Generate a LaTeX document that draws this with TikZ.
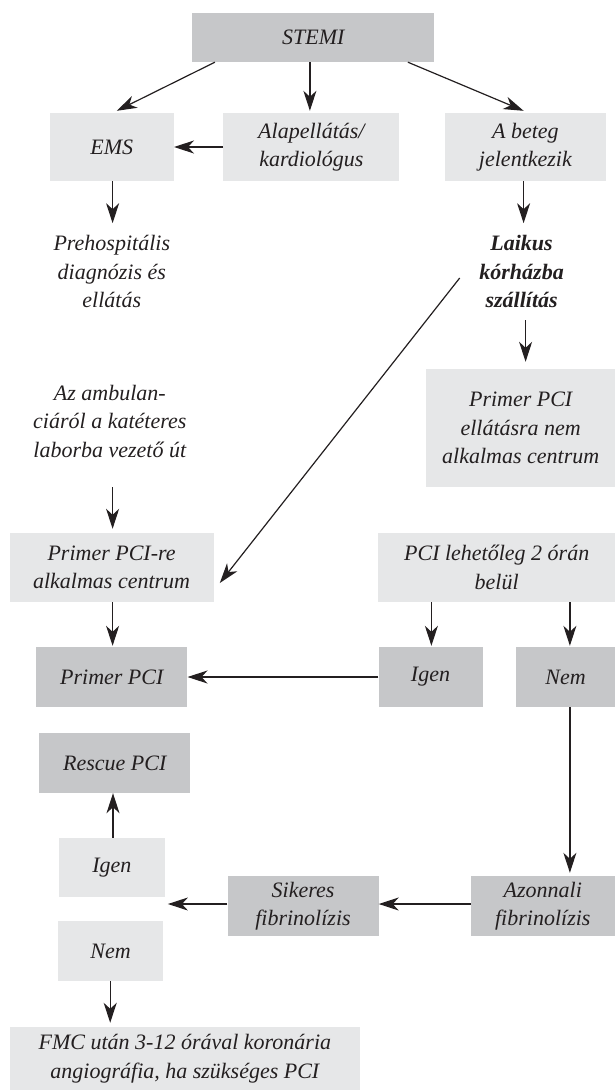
\documentclass[tikz,border=0pt]{standalone}
\usepackage{fontspec}
\setmainfont{Liberation Serif}
\usetikzlibrary{arrows.meta,calc}
\definecolor{darkbox}{HTML}{C6C7C9}
\definecolor{lightbox}{HTML}{E6E7E8}
\definecolor{ink}{HTML}{231F20}
\begin{document}
\begin{tikzpicture}[x=1pt,y=-1pt,
  every node/.style={font=\fontsize{22}{28.5}\selectfont\itshape, text=ink, align=center, inner sep=0pt},
  dbox/.style={fill=darkbox},
  lbox/.style={fill=lightbox},
  arr/.style={draw=ink, line width=1.2pt, -{Stealth[length=20pt,width=13pt,inset=6pt]}}]
\useasboundingbox (0,0) rectangle (615,1090);
\node[dbox, minimum width=242pt, minimum height=49pt] (stemi) at (313.4,37.5) {STEMI};
\node[lbox, minimum width=124pt, minimum height=68pt] (ems) at (111.8,147) {EMS};
\node[lbox, minimum width=176pt, minimum height=68pt] (alap) at (311.4,147) {Alapellátás/\\kardiológus};
\node[lbox, minimum width=161pt, minimum height=68pt] (beteg) at (525.4,147) {A beteg\\jelentkezik};
\node (prehosp) at (111.8,271.5) {Prehospitális\\diagnózis és\\ellátás};
\node (laikus) at (521.6,271.5) {\bfseries Laikus\\\bfseries kórházba\\\bfseries szállítás};
\node[lbox, minimum width=189pt, minimum height=118pt] (nemalk) at (520.7,428) {Primer PCI\\ellátásra nem\\alkalmas centrum};
\node (amb) at (109.8,421) {Az ambulan-\\ciáról a katéteres\\laborba vezető út};
\node[lbox, minimum width=204pt, minimum height=69pt] (pcire) at (111.6,567.5) {Primer PCI-re\\alkalmas centrum};
\node[lbox, minimum width=237pt, minimum height=69pt] (pcilet) at (496.7,567.5) {PCI lehetőleg 2 órán\\belül};
\node[dbox, minimum width=151pt, minimum height=60pt] (primer) at (111.8,677) {Primer PCI};
\node[dbox, minimum width=104pt, minimum height=60pt] (igen1) at (430.5,677) {Igen};
\node[dbox, minimum width=99pt, minimum height=60pt] (nem1) at (565.6,677) {Nem};
\node[dbox, minimum width=151pt, minimum height=60pt] (rescue) at (114.7,763) {Rescue PCI};
\node[lbox, minimum width=106pt, minimum height=59pt] (igen2) at (111.8,867.5) {Igen};
\node[dbox, minimum width=151pt, minimum height=60pt] (sik) at (303,906) {Sikeres\\fibrinolízis};
\node[dbox, minimum width=144pt, minimum height=60pt] (azon) at (542.8,906) {Azonnali\\fibrinolízis};
\node[lbox, minimum width=105pt, minimum height=60pt] (nem2) at (110.6,951) {Nem};
\node[lbox, minimum width=350pt, minimum height=63pt] (fmc) at (184.9,1058.5) {FMC után 3-12 órával koronária\\angiográfia, ha szükséges PCI};
% connectors
\draw[arr] ($(stemi.south west)+(22.7,0)$) -- ($(ems.north)+(5,-2)$);
\draw[arr] ($(stemi.south -| alap.north)+(-1.5,0)$) -- ($(alap.north)+(-1.5,-2)$);
\draw[arr] ($(stemi.south east)+(-26.7,0)$) -- ($(beteg.north)+(-1.8,-2)$);
\draw[arr] (alap.west) -- (ems.east);
\draw[arr] ($(ems.south)+(0.8,0)$) -- ++(0,42);
\draw[arr] ($(beteg.south)+(-1.8,0)$) -- ++(0,42);
\coordinate (lstart) at (525.6,320);
\draw[arr] (lstart) -- ($(nemalk.north -| lstart)+(0,-7)$);
\coordinate (dstart) at (459.7,278);
\draw[arr] (dstart) -- ($(pcire.east)+(6,15.5)$);
\coordinate (astart) at (112.6,487);
\draw[arr] (astart) -- ($(pcire.north -| astart)+(0,-4)$);
\draw[arr] ($(pcire.south)+(1,0)$) -- ($(primer.north)+(0.8,-1)$);
\draw[arr] ($(pcilet.south -| igen1.north)+(0.9,0)$) -- ($(igen1.north)+(0.9,-1)$);
\draw[arr] ($(pcilet.south -| nem1.north)+(4.3,0)$) -- ($(nem1.north)+(4.3,-1)$);
\draw[arr] (igen1.west) -- (primer.east);
\draw[arr] ($(nem1.south)+(4.3,0)$) -- ($(azon.north -| nem1.south)+(4.3,-3)$);
\draw[arr] ($(azon.west)+(0,-2)$) -- ($(sik.east)+(0,-2)$);
\coordinate (sikend) at (167.9,904);
\draw[arr] ($(sik.west)+(0,-2)$) -- (sikend);
\draw[arr] ($(igen2.north)+(1.2,0)$) -- ($(rescue.south -| igen2.north)+(1.2,0)$);
\draw[arr] ($(nem2.south)+(-0.4,0)$) -- ($(fmc.north -| nem2.south)+(-0.4,-4)$);
\end{tikzpicture}
\end{document}
